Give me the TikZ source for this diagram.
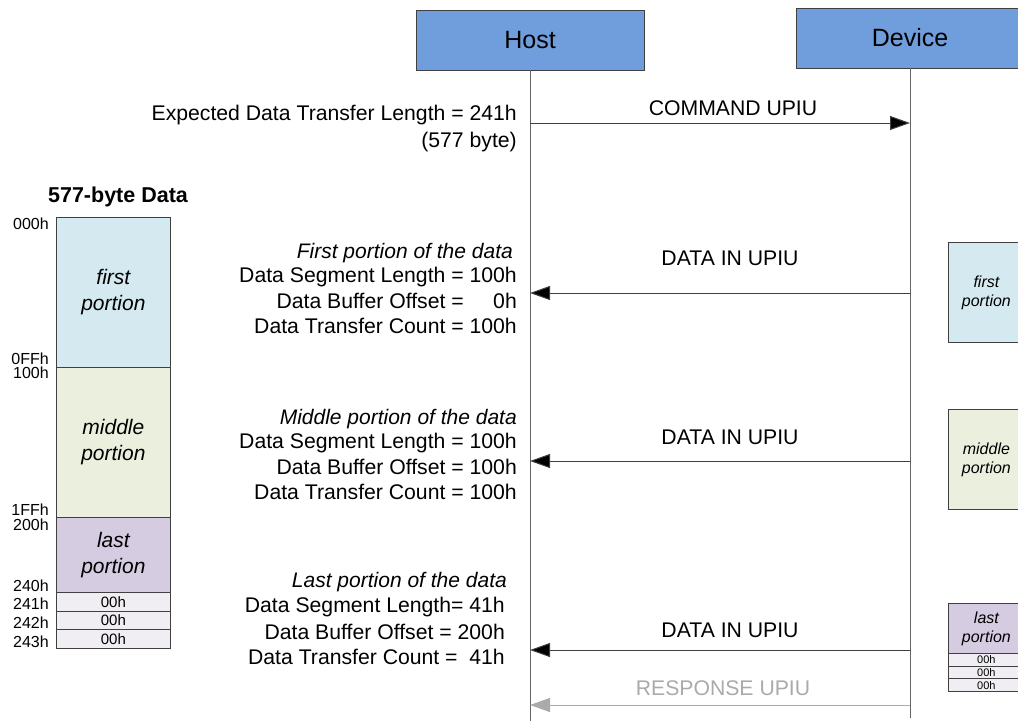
\documentclass[tikz,border=0pt]{standalone}
\usepackage{fontspec}
\setmainfont{Liberation Sans}
\usetikzlibrary{arrows.meta}

\definecolor{hdrfill}{RGB}{112,157,219}
\definecolor{boxline}{RGB}{64,64,64}
\definecolor{lifegray}{RGB}{100,100,100}
\definecolor{firstfill}{RGB}{213,234,240}
\definecolor{middlefill}{RGB}{235,240,222}
\definecolor{lastfill}{RGB}{214,204,226}
\definecolor{padfill}{RGB}{240,238,243}
\definecolor{respgray}{RGB}{170,170,170}

\begin{document}
\begin{tikzpicture}[x=1pt,y=-1pt,
  txt/.style={inner sep=0pt, font=\fontsize{21.2}{25}\selectfont},
  itxt/.style={inner sep=0pt, anchor=east, font=\fontsize{21}{25}\selectfont\itshape},
  hdr/.style={draw=boxline, fill=hdrfill, minimum width=228pt, minimum height=60pt,
              inner sep=0pt, font=\fontsize{25}{30}\selectfont},
  lifeline/.style={draw=lifegray, line width=1pt},
  msg/.style={draw=boxline, line width=1pt, -{Triangle[length=20pt,width=14pt,fill=black]}},
  resp/.style={draw=respgray, line width=1pt, -{Triangle[length=20pt,width=14pt,fill=respgray]}},
  memblk/.style={draw=boxline, line width=0.8pt, minimum width=114pt, inner sep=0pt,
                 anchor=north west, align=center, font=\fontsize{21}{26}\selectfont\itshape},
  padrow/.style={draw=boxline, line width=0.8pt, fill=padfill, minimum width=114pt,
                 minimum height=18.7pt, inner sep=0pt, anchor=north west,
                 font=\fontsize{15}{16}\selectfont},
  addr/.style={inner sep=0pt, anchor=east, font=\fontsize{16}{18}\selectfont},
  miniblk/.style={draw=boxline, line width=0.8pt, minimum width=76pt, inner sep=0pt,
                  anchor=north west, align=center, font=\fontsize{16}{19}\selectfont\itshape},
  minipad/.style={draw=boxline, line width=0.8pt, fill=padfill, minimum width=76pt,
                  minimum height=12.67pt, inner sep=0pt, anchor=north west,
                  font=\fontsize{11}{12}\selectfont},
]
\useasboundingbox (0,0) rectangle (1018,721);

% participants and their lifelines
\node[hdr] (host) at (530,40) {Host};
\node[hdr] (dev) at (910,38) {Device};
\coordinate (hostend) at (530,721);
\coordinate (devend) at (910,718);
\draw[lifeline] (host.south) -- (hostend);
\draw[lifeline] (dev.south) -- (devend);

% message end points on the lifelines
\coordinate (hc) at (530,123); \coordinate (dc) at (910,123);
\coordinate (h1) at (530,293); \coordinate (d1) at (910,293);
\coordinate (h2) at (530,461); \coordinate (d2) at (910,461);
\coordinate (h3) at (530,650); \coordinate (d3) at (910,650);
\coordinate (hr) at (530,705); \coordinate (dr) at (910,705);

% command
\draw[msg] (hc) -- (dc);
\node[txt] (cmdlbl) at (733,108) {COMMAND UPIU};
\node[txt, anchor=east] (edtl) at (517,115) {Expected Data Transfer Length = 241h};
\node[txt, anchor=east] (edtlb) at (517,142) {(577 byte)};

% data transfers
\draw[msg] (d1) -- (h1);
\node[txt] (dlbl1) at (730,258) {DATA IN UPIU};
\draw[msg] (d2) -- (h2);
\node[txt] (dlbl2) at (730,437) {DATA IN UPIU};
\draw[msg] (d3) -- (h3);
\node[txt] (dlbl3) at (730,630) {DATA IN UPIU};

% response
\draw[resp] (dr) -- (hr);
\node[txt, text=respgray] (rlbl) at (723,688) {RESPONSE UPIU};

% field values of each data transfer
\node[itxt] (a0) at (513,253) {First portion of the data};
\node[txt, anchor=east] (a1) at (517,277) {Data Segment Length = 100h};
\node[txt, anchor=east] (a2) at (517,301) {Data Buffer Offset = \phantom{10}0h};
\node[txt, anchor=east] (a3) at (517,326) {Data Transfer Count = 100h};

\node[itxt] (b0) at (517,419) {Middle portion of the data};
\node[txt, anchor=east] (b1) at (517,443) {Data Segment Length = 100h};
\node[txt, anchor=east] (b2) at (517,467) {Data Buffer Offset = 100h};
\node[txt, anchor=east] (b3) at (517,492) {Data Transfer Count = 100h};

\node[itxt] (c0) at (507,582) {Last portion of the data};
\node[txt, anchor=east] (c1) at (505,607) {Data Segment Length= 41h};
\node[txt, anchor=east] (c2) at (505,632) {Data Buffer Offset = 200h};
\node[txt, anchor=east] (c3) at (505,657) {Data Transfer Count =\ \ 41h};

% 577-byte data map
\node[inner sep=0pt, font=\fontsize{21.5}{25}\selectfont\bfseries] (title) at (118,197) {577-byte Data};
\node[memblk, fill=firstfill, minimum height=150pt] (mfirst) at (56,217) {first\\portion};
\node[memblk, fill=middlefill, minimum height=150pt] (mmid) at (56,367) {middle\\portion};
\node[memblk, fill=lastfill, minimum height=75pt] (mlast) at (56,517) {last\\portion};
\node[padrow] (p1) at (56,592) {00h};
\node[padrow] (p2) at (56,610.7) {00h};
\node[padrow] (p3) at (56,629.4) {00h};

\node[addr] (l000) at (49,224) {000h};
\node[addr] (l0ff) at (49,359) {0FFh};
\node[addr] (l100) at (49,373) {100h};
\node[addr] (l1ff) at (49,510) {1FFh};
\node[addr] (l200) at (49,525) {200h};
\node[addr] (l240) at (49,586) {240h};
\node[addr] (l241) at (49,604) {241h};
\node[addr] (l242) at (49,623) {242h};
\node[addr] (l243) at (49,642) {243h};

% portions as received by the host
\node[miniblk, fill=firstfill, minimum height=100pt] (rfirst) at (948,242) {first\\portion};
\node[miniblk, fill=middlefill, minimum height=100pt] (rmid) at (948,409) {middle\\portion};
\node[miniblk, fill=lastfill, minimum height=50pt] (rlast) at (948,603) {last\\portion};
\node[minipad] (q1) at (948,653) {00h};
\node[minipad] (q2) at (948,665.67) {00h};
\node[minipad] (q3) at (948,678.33) {00h};
\end{tikzpicture}
\end{document}
